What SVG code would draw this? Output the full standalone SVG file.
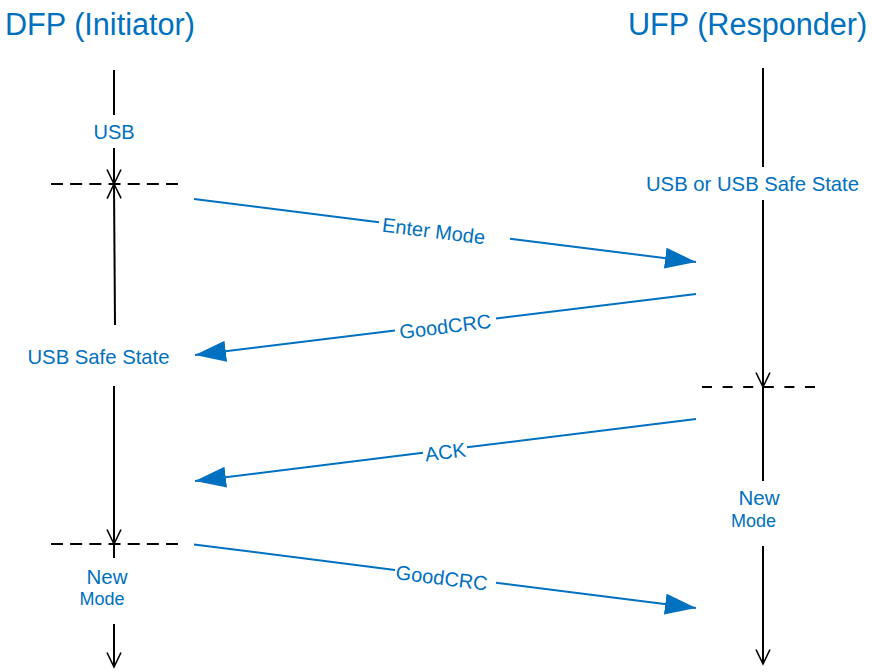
<svg xmlns="http://www.w3.org/2000/svg" width="872" height="672" viewBox="0 0 872 672">
  <defs>
    <marker id="open" viewBox="-16 -9 18 18" refX="0" refY="0" markerWidth="18" markerHeight="18" markerUnits="userSpaceOnUse" orient="auto">
      <path d="M-14.5,-7 L0,0 L-14.5,7" fill="none" stroke="#000" stroke-width="1.6"/>
    </marker>
    <marker id="solid" viewBox="0 0 32 21" refX="31" refY="10.5" markerWidth="32" markerHeight="21" markerUnits="userSpaceOnUse" orient="auto">
      <path d="M0,0 L31,10.5 L0,21 Z" fill="#0070C0"/>
    </marker>
  </defs>
  <style>
    .title { font-family: "Liberation Sans", Arial, sans-serif; font-size: 30.6px; fill: #0070C0; }
    .lbl { font-family: "Liberation Sans", Arial, sans-serif; font-size: 20px; fill: #0070C0; }
    .state { font-family: "Liberation Sans", Arial, sans-serif; font-size: 20.3px; fill: #0070C0; }
    .new { font-family: "Liberation Sans", Arial, sans-serif; font-size: 20.5px; fill: #0070C0; }
    .small { font-family: "Liberation Sans", Arial, sans-serif; font-size: 18px; fill: #0070C0; }
    .life { stroke: #000; stroke-width: 2; fill: none; }
    .dashL { stroke: #000; stroke-width: 2; fill: none; stroke-dasharray: 12 7.17; }
    .dashR { stroke: #000; stroke-width: 2; fill: none; stroke-dasharray: 10 10.6; }
    .msg { stroke: #0070C0; stroke-width: 2; fill: none; }
  </style>
  <rect width="872" height="672" fill="#fff"/>

  <g id="dfp">
    <text class="title" x="5" y="35">DFP (Initiator)</text>
  </g>
  <g id="ufp">
    <text class="title" x="628" y="35">UFP (Responder)</text>
  </g>

  <g id="dfp-usb">
    <text class="lbl" x="114" y="139" text-anchor="middle">USB</text>
  </g>
  <g id="dfp-safe">
    <text class="state" x="98.5" y="364" text-anchor="middle">USB Safe State</text>
  </g>
  <g id="dfp-new">
    <text class="new" x="107" y="584" text-anchor="middle">New</text>
    <text class="small" x="102" y="605" text-anchor="middle">Mode</text>
  </g>
  <g id="ufp-usb">
    <text class="state" x="752.5" y="191" text-anchor="middle">USB or USB Safe State</text>
  </g>
  <g id="ufp-new">
    <text class="new" x="759" y="505" text-anchor="middle">New</text>
    <text class="small" x="753.5" y="527" text-anchor="middle">Mode</text>
  </g>

  <g id="connectors">
    <!-- DFP lifeline -->
    <line class="life" x1="114" y1="70" x2="114" y2="115"/>
    <line class="life" x1="114" y1="148" x2="114" y2="184" marker-end="url(#open)"/>
    <line class="life" x1="115" y1="325" x2="114" y2="184" marker-end="url(#open)"/>
    <line class="life" x1="114" y1="386" x2="114" y2="544" marker-end="url(#open)"/>
    <line class="life" x1="114" y1="544" x2="114" y2="558"/>
    <line class="life" x1="114" y1="624" x2="114" y2="667" marker-end="url(#open)"/>
    <line class="dashL" x1="51" y1="184" x2="178" y2="184"/>
    <line class="dashL" x1="51" y1="544" x2="178" y2="544"/>

    <!-- UFP lifeline -->
    <line class="life" x1="763" y1="68" x2="763" y2="167"/>
    <line class="life" x1="763" y1="200" x2="763" y2="387" marker-end="url(#open)"/>
    <line class="life" x1="763" y1="387" x2="763" y2="481"/>
    <line class="life" x1="763" y1="546" x2="763" y2="664" marker-end="url(#open)"/>
    <line class="dashR" x1="702" y1="387" x2="815" y2="387"/>

    <!-- Enter Mode -->
    <g id="msg-enter">
      <line class="msg" x1="194" y1="199" x2="379" y2="222.2"/>
      <line class="msg" x1="510" y1="238.7" x2="696" y2="262" marker-end="url(#solid)"/>
      <text class="lbl" x="434" y="229.1" dy="9" text-anchor="middle" transform="rotate(7.15 434 229.1)">Enter Mode</text>
    </g>
    <!-- GoodCRC 1 -->
    <g id="msg-goodcrc1">
      <line class="msg" x1="696" y1="294" x2="496" y2="318.4"/>
      <line class="msg" x1="395" y1="330.6" x2="195" y2="355" marker-end="url(#solid)"/>
      <text class="lbl" x="445" y="324.5" dy="9" text-anchor="middle" transform="rotate(-6.94 445 324.5)">GoodCRC</text>
    </g>
    <!-- ACK -->
    <g id="msg-ack">
      <line class="msg" x1="696" y1="419" x2="467" y2="447.3"/>
      <line class="msg" x1="423" y1="452.8" x2="195" y2="481" marker-end="url(#solid)"/>
      <text class="lbl" x="445" y="450" dy="9" text-anchor="middle" transform="rotate(-7.05 445 450)">ACK</text>
    </g>
    <!-- GoodCRC 2 -->
    <g id="msg-goodcrc2">
      <line class="msg" x1="194" y1="544.5" x2="395" y2="569.9"/>
      <line class="msg" x1="496" y1="582.7" x2="696" y2="608" marker-end="url(#solid)"/>
      <text class="lbl" x="442" y="575.9" dy="9" text-anchor="middle" transform="rotate(7.2 442 575.9)">GoodCRC</text>
    </g>
  </g>
</svg>
